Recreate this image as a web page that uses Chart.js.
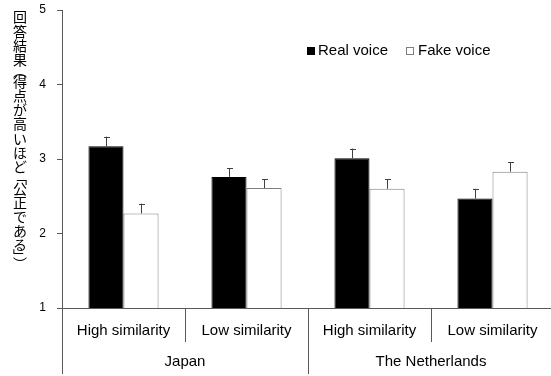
<!DOCTYPE html>
<html>
<head>
<meta charset="utf-8">
<script src="https://cdn.jsdelivr.net/npm/chart.js@4"></script>
<style>
  html, body { margin: 0; padding: 0; overflow: hidden; background: #fff; }
  #wrap { width: 560px; height: 376px; }
</style>
</head>
<body>
<div id="wrap"><canvas id="chart" width="560" height="376"></canvas></div>
<script>
const subLabels = ['High similarity', 'Low similarity', 'High similarity', 'Low similarity'];
const groupLabels = ['Japan', 'The Netherlands'];
const realVoice = [3.17, 2.76, 3.01, 2.47];
const fakeVoice = [2.27, 2.61, 2.60, 2.83];
const realErr = [0.13, 0.12, 0.13, 0.13];
const fakeErr = [0.13, 0.12, 0.13, 0.13];
const yTitle = '回答結果（得点が高いほど「公正である」）';
const yMin = 1, yMax = 5;

const AXIS = '#595959';
Chart.defaults.font.family = '"Liberation Sans", Arial, sans-serif';
Chart.defaults.color = '#000';

// vertical forms for brackets in the upright title
const vertForms = { '（': '︵', '）': '︶', '「': '﹁', '」': '﹂' };

const yTitlePlugin = {
  id: 'yTitle',
  afterDraw(chart) {
    const ctx = chart.ctx;
    ctx.save();
    ctx.font = '14px "Noto Sans CJK JP"';
    ctx.fillStyle = '#000';
    ctx.textAlign = 'center';
    ctx.textBaseline = 'middle';
    let y = 10;
    for (const ch of yTitle) {
      const v = vertForms[ch];
      const step = v ? 7.5 : 14.2;
      ctx.fillText(v || ch, 20, y + step / 2);
      y += step;
    }
    ctx.restore();
  }
};

const errorBars = {
  id: 'errorBars',
  afterDatasetsDraw(chart) {
    const ctx = chart.ctx, ys = chart.scales.y;
    const errs = [realErr, fakeErr];
    ctx.save();
    ctx.strokeStyle = '#404040';
    ctx.lineWidth = 1;
    chart.data.datasets.forEach((ds, di) => {
      chart.getDatasetMeta(di).data.forEach((bar, i) => {
        const x = Math.round(bar.x) + 0.5;
        const top = ys.getPixelForValue(ds.data[i] + errs[di][i]);
        ctx.beginPath();
        ctx.moveTo(x, bar.y);
        ctx.lineTo(x, top);
        ctx.moveTo(x - 2.5, Math.round(top) + 0.5);
        ctx.lineTo(x + 3.5, Math.round(top) + 0.5);
        ctx.stroke();
      });
    });
    ctx.restore();
  }
};

const legendBox = {
  id: 'legendBox',
  afterDraw(chart) {
    const ctx = chart.ctx;
    const spots = [[307, 318], [406, 418]];
    ctx.save();
    ctx.font = '15px "Liberation Sans", Arial, sans-serif';
    ctx.textBaseline = 'middle';
    chart.data.datasets.forEach((ds, di) => {
      const [bx, tx] = spots[di];
      ctx.fillStyle = ds.backgroundColor;
      ctx.fillRect(bx, 47, 8, 8);
      ctx.strokeStyle = ds.borderColor;
      ctx.lineWidth = 1;
      ctx.strokeRect(bx + 0.5, 47.5, 7, 7);
      ctx.fillStyle = '#000';
      ctx.fillText(ds.label, tx, 51);
    });
    ctx.restore();
  }
};

const xTable = {
  id: 'xTable',
  afterDraw(chart) {
    const ctx = chart.ctx, xs = chart.scales.x, a = chart.chartArea;
    const px = i => xs.getPixelForValue(i);
    const edge = i => Math.round((px(i) + px(i + 1)) / 2) + 0.5;
    ctx.save();
    ctx.strokeStyle = AXIS;
    ctx.lineWidth = 1;
    ctx.beginPath();
    // y axis carried down past the value axis
    const lx = Math.round(a.left) + 0.5;
    ctx.moveTo(lx, a.bottom); ctx.lineTo(lx, 374);
    // short dividers inside each country, long one between countries
    [0, 2].forEach(i => { ctx.moveTo(edge(i), a.bottom); ctx.lineTo(edge(i), 342); });
    ctx.moveTo(edge(1), a.bottom); ctx.lineTo(edge(1), 374);
    ctx.stroke();
    ctx.font = '15px "Liberation Sans", Arial, sans-serif';
    ctx.fillStyle = '#000';
    ctx.textAlign = 'center';
    ctx.textBaseline = 'middle';
    groupLabels.forEach((g, gi) => {
      ctx.fillText(g, (px(gi * 2) + px(gi * 2 + 1)) / 2, 362);
    });
    ctx.restore();
  }
};

new Chart(document.getElementById('chart'), {
  type: 'bar',
  data: {
    labels: subLabels,
    datasets: [
      { label: 'Real voice', data: realVoice, backgroundColor: '#000', borderColor: '#000', borderWidth: 1 },
      { label: 'Fake voice', data: fakeVoice, backgroundColor: '#fff', borderColor: '#7f7f7f', borderWidth: 1 }
    ]
  },
  options: {
    responsive: false,
    animation: false,
    devicePixelRatio: 1,
    layout: { padding: { top: 10, right: 6, left: 0, bottom: 0 } },
    datasets: { bar: { barPercentage: 1, categoryPercentage: 0.57 } },
    plugins: { legend: { display: false }, tooltip: { enabled: false } },
    scales: {
      x: {
        grid: { display: false, drawTicks: false },
        border: { display: true, color: AXIS, width: 1 },
        ticks: { font: { size: 15 }, color: '#000', padding: 14, maxRotation: 0, autoSkip: false },
        afterFit: s => { s.height = 68; }
      },
      y: {
        min: yMin,
        max: yMax,
        grid: { drawOnChartArea: false, tickLength: 5, color: AXIS },
        border: { display: true, color: AXIS, width: 1 },
        ticks: { stepSize: 1, font: { size: 12 }, color: '#000', padding: 11 },
        afterFit: s => { s.width = 62; s.paddingTop = 0; s.paddingBottom = 0; }
      }
    }
  },
  plugins: [yTitlePlugin, errorBars, legendBox, xTable]
});
</script>
</body>
</html>
